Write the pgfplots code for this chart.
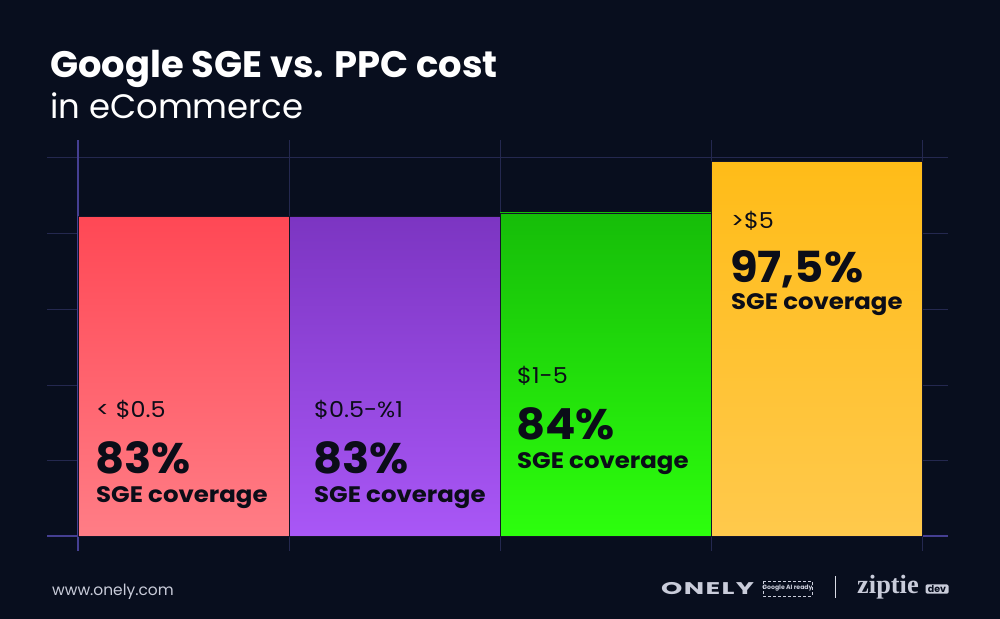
\documentclass[border=0pt]{standalone}
\usepackage{fontspec}
\setmainfont{Poppins}
\newfontfamily\seriffont{Liberation Serif}
\newfontfamily\onelyfont[FakeStretch=1.6,LetterSpace=8]{Poppins}
\newfontfamily\wf[FakeStretch=1.09]{Poppins}
\newfontfamily\wfb[FakeStretch=1.05]{Poppins}
\usepackage{pgfplots}
\pgfplotsset{compat=1.18}
\definecolor{bg}{HTML}{080E1E}
\definecolor{gridc}{HTML}{24284F}
\definecolor{axc}{HTML}{453F92}
\definecolor{bardark}{HTML}{141428}
\definecolor{txt}{HTML}{0B0D18}
\definecolor{foot}{HTML}{C9CCDA}
\definecolor{rtop}{HTML}{FF4855}
\definecolor{rbot}{HTML}{FF7D86}
\definecolor{ptop}{HTML}{7C35C2}
\definecolor{pbot}{HTML}{A957F6}
\definecolor{gtop}{HTML}{16BD09}
\definecolor{gbot}{HTML}{2DFF0D}
\definecolor{ytop}{HTML}{FFBC18}
\definecolor{ybot}{HTML}{FFC94C}
\begin{document}
\begin{tikzpicture}
\fill[bg] (0bp,0bp) rectangle (1000bp,-619bp);
\begin{axis}[
  at={(47bp,-551bp)}, anchor=south west,
  scale only axis, width=901bp, height=411bp,
  xmin=-0.647, xmax=3.623, ymin=-3.9, ymax=102.96,
  axis line style={draw=none},
  major tick length=0pt,
  xtick={0.5,1.5,2.5,3.5}, ytick={19.76,39.26,59.02,78.78,98.54},
  xticklabels={}, yticklabels={},
  extra x ticks={-0.5}, extra y ticks={0},
  extra x tick labels={}, extra y tick labels={},
  extra tick style={grid=major, major grid style={axc, line width=1.1bp}},
  grid=major, major grid style={gridc, line width=0.9bp},
  clip=false,
]
\addplot[ybar, bar width=1, bar shift=0pt, draw=bardark, line width=0.6bp, top color=rtop, bottom color=rbot] coordinates {(0,83)};
\addplot[ybar, bar width=1, bar shift=0pt, draw=bardark, line width=0.6bp, top color=ptop, bottom color=pbot] coordinates {(1,83)};
\addplot[ybar, bar width=1, bar shift=0pt, draw=bardark, line width=0.6bp, top color=gtop, bottom color=gbot] coordinates {(2,84)};
\addplot[ybar, bar width=1, bar shift=0pt, draw=bardark, line width=0.6bp, top color=ytop, bottom color=ybot] coordinates {(3,97.5)};
\end{axis}
% titles
\node[anchor=base west, inner sep=0, text=white, font=\fontsize{37}{40}\selectfont\bfseries] at (50bp,-77bp) {Google SGE vs. PPC cost};
\node[anchor=base west, inner sep=0, text=white, font=\fontsize{34}{38}\selectfont] at (50bp,-118bp) {in eCommerce};
% bar labels
\tikzset{lab/.style={anchor=base west, inner sep=0, text=txt, font=\wf\fontsize{22}{24}\selectfont},
         big/.style={anchor=base west, inner sep=0, text=txt, font=\wfb\fontsize{43}{46}\selectfont\bfseries},
         cov/.style={anchor=base west, inner sep=0, text=txt, font=\wf\fontsize{22.5}{24}\selectfont\bfseries}}
\node[lab] at (96bp,-417bp) {< \$0.5};
\node[big] at (95bp,-473bp) {83\%};
\node[cov] at (96bp,-502bp) {SGE coverage};
\node[lab] at (314bp,-417bp) {\$0.5-\%1};
\node[big] at (313bp,-473bp) {83\%};
\node[cov] at (314bp,-502bp) {SGE coverage};
\node[lab] at (517bp,-383bp) {\$1-5};
\node[big] at (516bp,-439bp) {84\%};
\node[cov] at (517bp,-468bp) {SGE coverage};
\node[lab] at (731bp,-228bp) {>\$5};
\node[big] at (730bp,-282bp) {97,5\%};
\node[cov] at (731bp,-309bp) {SGE coverage};
% footer
\node[anchor=base west, inner sep=0, text=foot, font=\fontsize{15.5}{17}\selectfont] at (52bp,-595bp) {www.onely.com};
\node[anchor=base west, inner sep=0, text=foot, font=\onelyfont\fontsize{17}{18}\selectfont\bfseries] at (661bp,-594bp) {ONELY};
\draw[foot, line width=0.6bp, dash pattern=on 3bp off 2bp] (763bp,-581bp) rectangle (812bp,-596bp);
\node[inner sep=0, text=foot, font=\fontsize{6.2}{7}\selectfont\bfseries] at (787.5bp,-588.5bp) {Google AI ready};
\draw[foot!70, line width=0.8bp] (835bp,-576bp) -- (835bp,-598bp);
\node[anchor=base west, inner sep=0, text=foot, font=\seriffont\fontsize{26.5}{28}\selectfont\bfseries] at (857bp,-593bp) {ziptie};
\node[fill=foot, rounded corners=1.5bp, inner sep=1.2bp, text=bg, font=\fontsize{9.5}{10}\selectfont\bfseries, minimum width=23bp] at (937bp,-589bp) {dev};
\end{tikzpicture}
\end{document}
